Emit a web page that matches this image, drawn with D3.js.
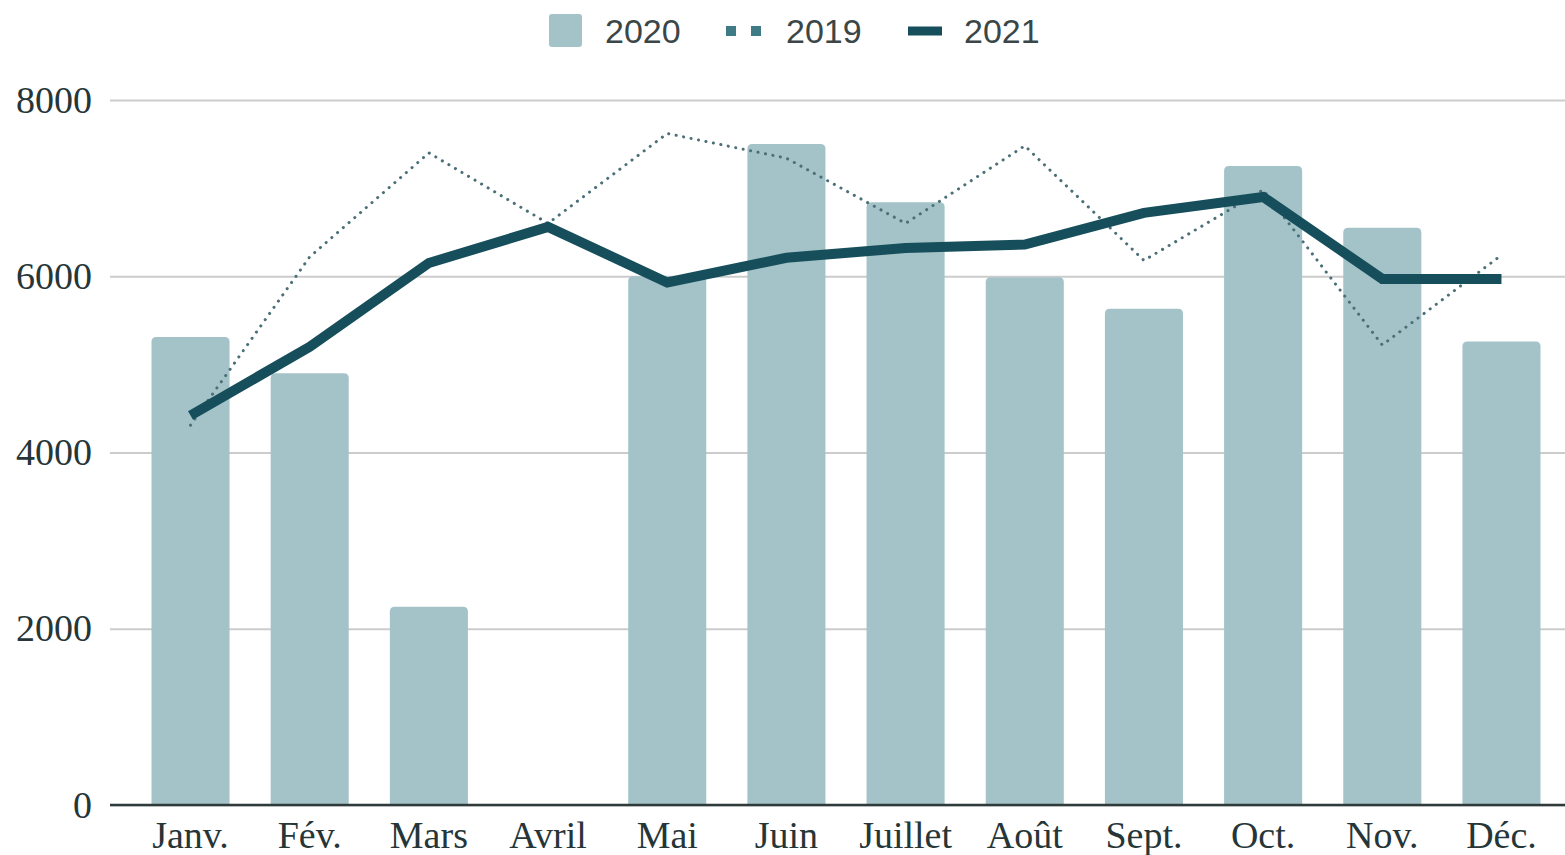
<!DOCTYPE html>
<meta charset="utf-8">
<title>Mois</title>
<style>
body { margin: 0; background: #fff; }
.tick text { font-family: "Liberation Serif", serif; fill: #263638; }
.legend text { font-family: "Liberation Sans", Arial, sans-serif; font-size: 34px; fill: #3a4647; }
</style>
<body>
<svg></svg>
<script src="https://d3js.org/d3.v7.min.js"></script>
<script>

var months = ["Janv.", "Fév.", "Mars", "Avril", "Mai", "Juin", "Juillet", "Août", "Sept.", "Oct.", "Nov.", "Déc."];
var values2020 = [5310, 4900, 2250, 0, 6000, 7500, 6840, 5990, 5630, 7250, 6550, 5260];
var values2019 = [4310, 6220, 7400, 6600, 7620, 7340, 6600, 7480, 6180, 6980, 5220, 6240];
var values2021 = [4420, 5200, 6150, 6560, 5930, 6210, 6320, 6360, 6720, 6900, 5970, 5970];
var yTicks = [0, 2000, 4000, 6000, 8000];

var width = 1565,
    height = 855,
    margin = {top: 100, right: 4, bottom: 50, left: 110};

var svg = d3.select("svg").attr("width", width).attr("height", height);

var x = d3.scaleBand()
    .domain(months)
    .range([131, 1561])
    .paddingInner(0.345)
    .paddingOuter(0.172);

var y = d3.scaleLinear()
    .domain([0, 8000])
    .range([height - margin.bottom, margin.top]);

// grid
var yAxis = svg.append("g")
    .attr("transform", "translate(" + margin.left + ",0)")
    .call(d3.axisLeft(y).tickValues(yTicks).tickSize(-(width - margin.left)).tickPadding(18).tickFormat(d3.format("d")));
yAxis.select(".domain").remove();
yAxis.selectAll(".tick line").attr("stroke", "#cccccc").attr("stroke-width", 2);
yAxis.selectAll(".tick text").attr("font-size", 38);

// bars (rounded top)
var r = 5;
svg.append("g").selectAll("path")
    .data(values2020.map((v, i) => ({m: months[i], v: v})).filter(d => d.v > 0))
    .enter().append("path")
    .attr("fill", "#a4c3c8")
    .attr("d", d => {
        var x0 = x(d.m), x1 = x0 + x.bandwidth(), y0 = y(0), y1 = y(d.v);
        return "M" + x0 + "," + y0 + "V" + (y1 + r) + "Q" + x0 + "," + y1 + " " + (x0 + r) + "," + y1 +
               "H" + (x1 - r) + "Q" + x1 + "," + y1 + " " + x1 + "," + (y1 + r) + "V" + y0 + "Z";
    });

var line = d3.line()
    .x((d, i) => x(months[i]) + x.bandwidth() / 2)
    .y(d => y(d));

svg.append("path")
    .datum(values2019)
    .attr("d", line)
    .attr("fill", "none")
    .attr("stroke", "#4a6f77")
    .attr("stroke-width", 3)
    .attr("stroke-dasharray", "0.1 7.5")
    .attr("stroke-linecap", "round");

svg.append("path")
    .datum(values2021)
    .attr("d", line)
    .attr("fill", "none")
    .attr("stroke", "#164f5b")
    .attr("stroke-width", 10)
    .attr("stroke-linejoin", "miter");

// baseline + month labels
var xAxis = svg.append("g")
    .attr("transform", "translate(0," + y(0) + ")")
    .call(d3.axisBottom(x).tickSize(0).tickPadding(16));
xAxis.select(".domain").remove();
xAxis.selectAll(".tick text").attr("font-size", 38);
svg.append("line")
    .attr("x1", margin.left).attr("x2", width)
    .attr("y1", y(0)).attr("y2", y(0))
    .attr("stroke", "#2f3a3b").attr("stroke-width", 2.5);

// legend
var legend = svg.append("g").attr("class", "legend");
legend.append("rect").attr("x", 549).attr("y", 14).attr("width", 33).attr("height", 33).attr("rx", 3).attr("fill", "#a4c3c8");
legend.append("text").attr("x", 605).attr("y", 43).text("2020");
legend.append("line").attr("x1", 726).attr("x2", 764).attr("y1", 31).attr("y2", 31)
    .attr("stroke", "#3f7b86").attr("stroke-width", 10).attr("stroke-dasharray", "10 15");
legend.append("text").attr("x", 786).attr("y", 43).text("2019");
legend.append("line").attr("x1", 908).attr("x2", 942).attr("y1", 31).attr("y2", 31)
    .attr("stroke", "#164f5b").attr("stroke-width", 9);
legend.append("text").attr("x", 964).attr("y", 43).text("2021");

</script>
</body>
